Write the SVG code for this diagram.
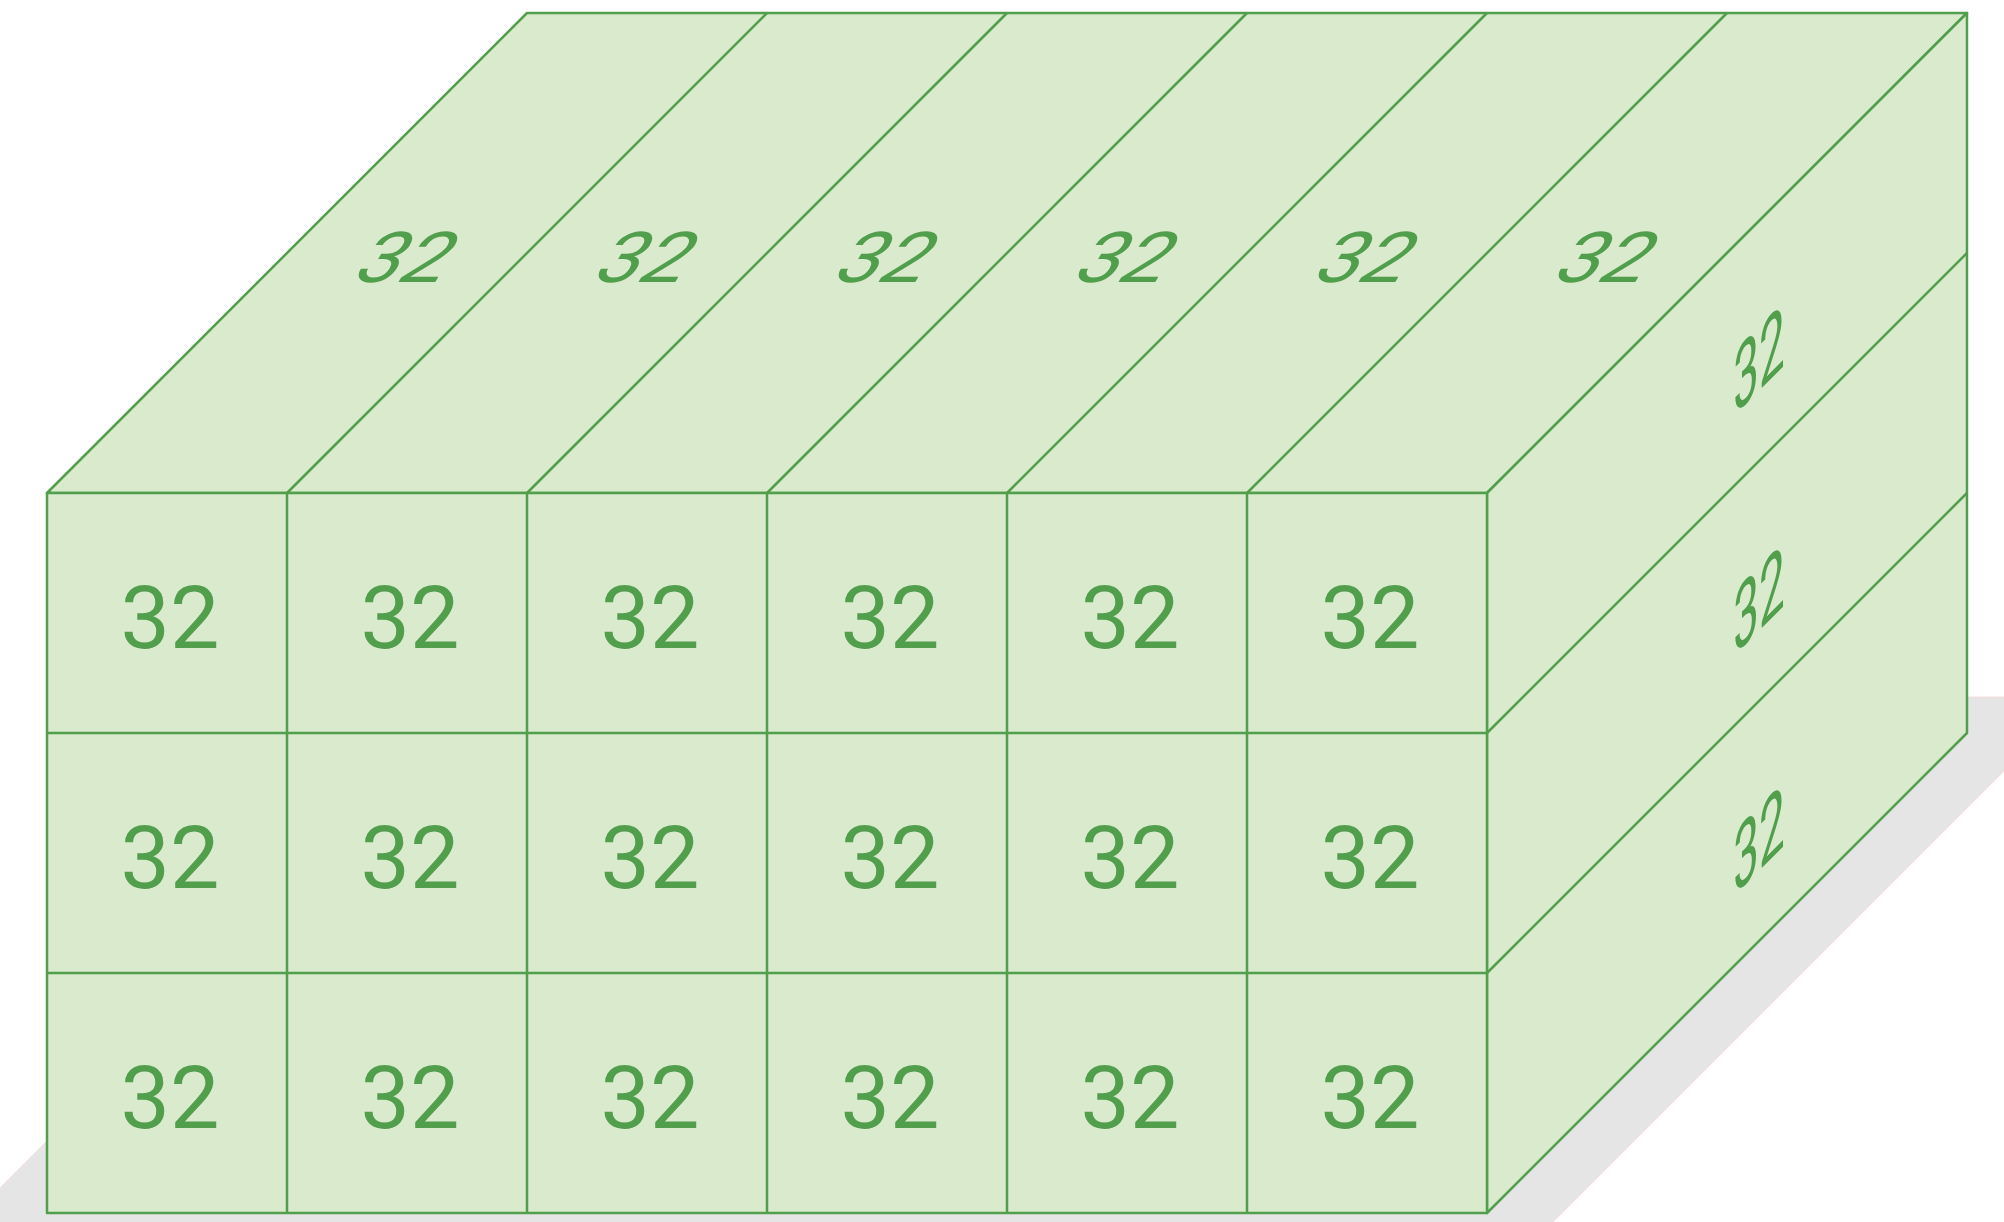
<svg xmlns="http://www.w3.org/2000/svg" width="2004" height="1222" viewBox="0 0 2004 1222">
<style>
.face{fill:#d9eacd;stroke:#519e4c;stroke-width:2.5;stroke-linejoin:round}
.ln{stroke:#519e4c;stroke-width:2.5;fill:none}
.lbl{font-family:Roboto,"Liberation Sans",sans-serif;font-size:88px;fill:#519e4c;text-anchor:middle}
</style>
<rect width="2004" height="1222" fill="#ffffff"/>
<g id="shadow">
<polygon points="491,697 2078,697 1518,1257 -69,1257" fill="#e5e5e5" stroke="#f6dcdc" stroke-width="1"/>
</g>
<g id="box">
<g id="top-face">
<polygon class="face" points="47,493 1487,493 1967,13 527,13"/>
</g>
<g id="right-face">
<polygon class="face" points="1487,493 1967,13 1967,733 1487,1213"/>
</g>
<g id="front-face">
<rect class="face" x="47" y="493" width="1440" height="720"/>
</g>
</g>
<g id="connectors">
<line class="ln" x1="287" y1="493" x2="767" y2="13"/>
<line class="ln" x1="527" y1="493" x2="1007" y2="13"/>
<line class="ln" x1="767" y1="493" x2="1247" y2="13"/>
<line class="ln" x1="1007" y1="493" x2="1487" y2="13"/>
<line class="ln" x1="1247" y1="493" x2="1727" y2="13"/>
<line class="ln" x1="1487" y1="733" x2="1967" y2="253"/>
<line class="ln" x1="1487" y1="973" x2="1967" y2="493"/>
<line class="ln" x1="287" y1="493" x2="287" y2="1213"/>
<line class="ln" x1="527" y1="493" x2="527" y2="1213"/>
<line class="ln" x1="767" y1="493" x2="767" y2="1213"/>
<line class="ln" x1="1007" y1="493" x2="1007" y2="1213"/>
<line class="ln" x1="1247" y1="493" x2="1247" y2="1213"/>
<line class="ln" x1="47" y1="733" x2="1487" y2="733"/>
<line class="ln" x1="47" y1="973" x2="1487" y2="973"/>
</g>
<g id="front-labels">
<g id="f-r1"><text class="lbl" x="170" y="648">32</text><text class="lbl" x="410" y="648">32</text><text class="lbl" x="650" y="648">32</text><text class="lbl" x="890" y="648">32</text><text class="lbl" x="1130" y="648">32</text><text class="lbl" x="1370" y="648">32</text></g>
<g id="f-r2"><text class="lbl" x="170" y="888">32</text><text class="lbl" x="410" y="888">32</text><text class="lbl" x="650" y="888">32</text><text class="lbl" x="890" y="888">32</text><text class="lbl" x="1130" y="888">32</text><text class="lbl" x="1370" y="888">32</text></g>
<g id="f-r3"><text class="lbl" x="170" y="1128">32</text><text class="lbl" x="410" y="1128">32</text><text class="lbl" x="650" y="1128">32</text><text class="lbl" x="890" y="1128">32</text><text class="lbl" x="1130" y="1128">32</text><text class="lbl" x="1370" y="1128">32</text></g>
</g>
<g id="top-labels">
<text class="lbl" x="0" y="32" transform="matrix(0.9,0,-0.48,0.8,409,256)">32</text>
<text class="lbl" x="0" y="32" transform="matrix(0.9,0,-0.48,0.8,649,256)">32</text>
<text class="lbl" x="0" y="32" transform="matrix(0.9,0,-0.48,0.8,889,256)">32</text>
<text class="lbl" x="0" y="32" transform="matrix(0.9,0,-0.48,0.8,1129,256)">32</text>
<text class="lbl" x="0" y="32" transform="matrix(0.9,0,-0.48,0.8,1369,256)">32</text>
<text class="lbl" x="0" y="32" transform="matrix(0.9,0,-0.48,0.8,1609,256)">32</text>
</g>
<g id="right-labels">
<text class="lbl" x="0" y="32" transform="matrix(0.52,-0.52,0,1.02,1759,358)">32</text>
<text class="lbl" x="0" y="32" transform="matrix(0.52,-0.52,0,1.02,1759,598)">32</text>
<text class="lbl" x="0" y="32" transform="matrix(0.52,-0.52,0,1.02,1759,838)">32</text>
</g>
</svg>
